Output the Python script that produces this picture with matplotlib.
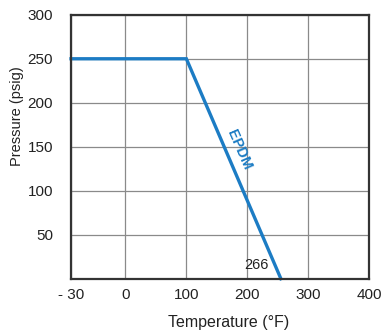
import numpy as np
import matplotlib
matplotlib.use("Agg")
import matplotlib.pyplot as plt

plt.rcParams['font.family'] = ['Liberation Sans', 'DejaVu Sans']

# tick positions of the (non uniform) temperature axis
x_ticks = [-30, 0, 100, 200, 300, 400]
x_pos = [0, 0.182, 0.387, 0.592, 0.796, 1.0]
y_ticks = [50, 100, 150, 200, 250, 300]

# EPDM rating curve
temp = [-30, 100, 255]
pres = [250, 250, 0]


def fwd(x):
    return np.interp(x, x_ticks, x_pos)


def inv(u):
    return np.interp(u, x_pos, x_ticks)


fig = plt.figure(figsize=(3.82, 3.32), dpi=100)
ax = fig.add_axes([0.186, 0.1605, 0.78, 0.795])
ax.set_xscale('function', functions=(fwd, inv))
ax.set_xlim(-30, 400)
ax.set_ylim(0, 300)
ax.set_xticks(x_ticks)
ax.set_xticklabels(["- 30", "0", "100", "200", "300", "400"])
ax.set_yticks(y_ticks)
ax.grid(True, color="#8a8a8a", linewidth=0.9)
ax.set_axisbelow(True)
ax.tick_params(length=0, labelsize=11, colors="#222222")
ax.tick_params(axis='y', pad=13)
ax.tick_params(axis='x', pad=7)
for s in ax.spines.values():
    s.set_linewidth(1.6)
    s.set_color("#333333")

ax.plot(temp, pres, color="#1c7cc4", linewidth=2.4, solid_joinstyle='miter', clip_on=False)
ax.text(186, 147, "EPDM", color="#1c7cc4", fontsize=10.5, fontweight="bold",
        rotation=-66.5, ha="center", va="center", rotation_mode="anchor")
ax.text(214, 15.5, "266", fontsize=10.5, color="#222222", ha="center", va="center")

ax.set_xlabel("Temperature (°F)", fontsize=11.5, color="#222222")
ax.set_ylabel("Pressure (psig)", fontsize=10.5, color="#222222")
ax.xaxis.set_label_coords(0.53, -0.138)
ax.yaxis.set_label_coords(-0.158, 0.617)

fig.savefig("out.png", dpi=100)
